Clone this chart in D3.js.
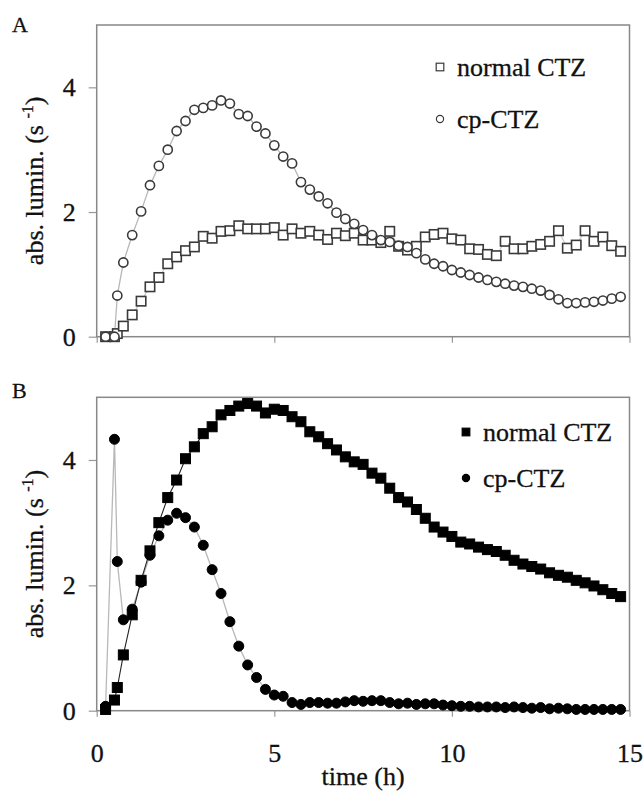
<!DOCTYPE html>
<html>
<head>
<meta charset="utf-8">
<script src="https://cdn.jsdelivr.net/npm/d3@7"></script>
<style>
  body { margin: 0; background: #fff; }
  svg text { font-family: "Liberation Serif", "Times New Roman", Times, serif; fill: #111; stroke: #111; stroke-width: 0.3px; }
</style>
</head>
<body>
<div id="chart"></div>
<script>
// sampling times (h), shared by both panels
var times = [0.25, 0.5, 0.58, 0.75, 1, 1.25, 1.5, 1.75, 2, 2.25,
  2.5, 2.75, 3, 3.25, 3.5, 3.75, 4, 4.25, 4.5, 4.75,
  5, 5.25, 5.5, 5.75, 6, 6.25, 6.5, 6.75, 7, 7.25,
  7.5, 7.75, 8, 8.25, 8.5, 8.75, 9, 9.25, 9.5, 9.75,
  10, 10.25, 10.5, 10.75, 11, 11.25, 11.5, 11.75, 12, 12.25,
  12.5, 12.75, 13, 13.25, 13.5, 13.75, 14, 14.25, 14.5, 14.75];

// panel A
var normalA = [0, 0, 0.05, 0.17, 0.35, 0.57, 0.80, 0.95, 1.17, 1.28,
  1.38, 1.44, 1.61, 1.58, 1.69, 1.70, 1.78, 1.73, 1.73, 1.73,
  1.75, 1.63, 1.73, 1.66, 1.69, 1.63, 1.56, 1.66, 1.62, 1.66,
  1.55, 1.55, 1.51, 1.69, 1.45, 1.39, 1.45, 1.60, 1.64, 1.66,
  1.57, 1.55, 1.41, 1.40, 1.32, 1.30, 1.53, 1.41, 1.41, 1.45,
  1.48, 1.53, 1.70, 1.42, 1.47, 1.70, 1.53, 1.60, 1.46, 1.37];
var cpA = [0, 0, 0.66, 1.19, 1.63, 2.01, 2.43, 2.74, 3.00, 3.30,
  3.46, 3.64, 3.67, 3.71, 3.79, 3.74, 3.57, 3.54, 3.37, 3.26,
  3.07, 2.89, 2.78, 2.48, 2.36, 2.25, 2.14, 1.99, 1.89, 1.81,
  1.71, 1.63, 1.55, 1.52, 1.46, 1.44, 1.34, 1.24, 1.17, 1.13,
  1.07, 1.03, 0.99, 0.95, 0.91, 0.88, 0.85, 0.82, 0.80, 0.77,
  0.74, 0.67, 0.60, 0.54, 0.54, 0.55, 0.56, 0.58, 0.61, 0.64];

// panel B
var normalB = [0.02, 0.17, 0.37, 0.89, 1.53, 2.08, 2.55, 3.00, 3.40, 3.68,
  4.02, 4.21, 4.42, 4.53, 4.72, 4.79, 4.86, 4.90, 4.86, 4.75,
  4.81, 4.79, 4.69, 4.61, 4.45, 4.37, 4.26, 4.16, 4.05, 3.97,
  3.93, 3.79, 3.71, 3.55, 3.40, 3.33, 3.21, 3.07, 2.93, 2.85,
  2.78, 2.69, 2.66, 2.61, 2.57, 2.54, 2.48, 2.40, 2.34, 2.30,
  2.26, 2.20, 2.16, 2.13, 2.08, 2.04, 1.99, 1.93, 1.87, 1.82];
var cpB = [0.07, 4.33, 2.38, 1.45, 1.62, 2.05, 2.48, 2.79, 3.04, 3.15,
  3.08, 2.93, 2.64, 2.25, 1.87, 1.42, 1.03, 0.73, 0.53, 0.34,
  0.25, 0.23, 0.13, 0.10, 0.13, 0.13, 0.12, 0.12, 0.14, 0.16,
  0.15, 0.16, 0.16, 0.13, 0.11, 0.12, 0.10, 0.11, 0.11, 0.09,
  0.08, 0.07, 0.07, 0.06, 0.06, 0.06, 0.05, 0.06, 0.05, 0.04,
  0.05, 0.03, 0.04, 0.03, 0.02, 0.02, 0.02, 0.02, 0.02, 0.02];

var seriesNames = ["normal CTZ", "cp-CTZ"];
var xTicks = [0, 5, 10, 15];
var yTicks = [0, 2, 4];

var FONT = "'Liberation Serif', 'Times New Roman', Times, serif";

var svg = d3.select("#chart").append("svg")
    .attr("width", 644)
    .attr("height", 795)
    .attr("font-family", FONT);

var x = d3.scaleLinear().domain([0, 15]).range([96.7, 629.5]);

function drawPanel(p) {
    var y = d3.scaleLinear().domain([0, 5]).range([p.bottom, p.top]);
    var g = svg.append("g");

    // axes
    var yAxis = g.append("g")
        .attr("transform", "translate(" + x(0) + ",0)")
        .call(d3.axisLeft(y).tickValues(yTicks).tickSize(8).tickPadding(13)
            .tickFormat(d3.format("d")));
    var xAxis = g.append("g")
        .attr("transform", "translate(0," + p.bottom + ")")
        .call(d3.axisBottom(x).tickValues(xTicks).tickSize(6).tickPadding(27)
            .tickFormat(p.xLabels ? d3.format("d") : ""));
    [yAxis, xAxis].forEach(function(a) {
        a.attr("font-family", FONT).attr("font-size", 26);
        a.select(".domain").remove();
        a.selectAll("line").attr("stroke", "#999").attr("stroke-width", 1.2);
        a.selectAll("text").attr("fill", "#111");
    });

    // frame
    g.append("rect")
        .attr("x", x(0)).attr("y", p.top)
        .attr("width", x(15) - x(0)).attr("height", p.bottom - p.top)
        .attr("fill", "none").attr("stroke", "#888").attr("stroke-width", 1.5);

    var pts = function(vals) { return times.map(function(t, i) { return [t, vals[i]]; }); };
    var line = d3.line().x(function(d) { return x(d[0]); }).y(function(d) { return y(d[1]); });

    // traces under the markers
    g.append("path").datum(pts(p.cp)).attr("d", line)
        .attr("fill", "none").attr("stroke", "#b8b8b8").attr("stroke-width", 1.3);
    g.append("path").datum(pts(p.normal)).attr("d", line)
        .attr("fill", "none").attr("stroke", p.filled ? "#222" : "#c4c4c4").attr("stroke-width", 1.1);

    var fill = p.filled ? "#000" : "#fff";
    var stroke = p.filled ? "#000" : "#3a3a3a";
    var sw = p.filled ? 1 : 1.6;
    var s = p.filled ? 10 : 9.4;

    g.selectAll(".sq").data(pts(p.normal)).enter().append("rect")
        .attr("x", function(d) { return x(d[0]) - s / 2; })
        .attr("y", function(d) { return y(d[1]) - s / 2; })
        .attr("width", s).attr("height", s)
        .attr("fill", fill).attr("stroke", stroke).attr("stroke-width", sw);

    g.selectAll(".ci").data(pts(p.cp)).enter().append("circle")
        .attr("cx", function(d) { return x(d[0]); })
        .attr("cy", function(d) { return y(d[1]); })
        .attr("r", p.filled ? 5 : 4.6)
        .attr("fill", fill).attr("stroke", stroke).attr("stroke-width", sw);

    // legend
    var lg = g.append("g");
    lg.append("rect")
        .attr("x", p.legX - 3.8).attr("y", p.legY[0] - 3.8)
        .attr("width", 7.6).attr("height", 7.6)
        .attr("fill", fill).attr("stroke", stroke).attr("stroke-width", 1.2);
    lg.append("circle")
        .attr("cx", p.legX).attr("cy", p.legY[1]).attr("r", 3.6)
        .attr("fill", fill).attr("stroke", stroke).attr("stroke-width", 1.2);
    lg.selectAll("text").data(seriesNames).enter().append("text")
        .attr("x", p.legX + 17)
        .attr("y", function(d, i) { return p.legY[i] + 9; })
        .attr("font-family", FONT)
        .attr("font-size", 26)
        .text(function(d) { return d; });

    // y label with superscript
    var cy = (p.top + p.bottom) / 2;
    var yl = g.append("text")
        .attr("transform", "translate(43," + cy + ") rotate(-90)")
        .attr("text-anchor", "middle")
        .attr("font-family", FONT)
        .attr("font-size", 26);
    yl.append("tspan").text("abs. lumin. (s ");
    yl.append("tspan").attr("dy", -10).attr("font-size", 16).text("-1");
    yl.append("tspan").attr("dy", 10).text(")");

    // panel letter
    g.append("text").attr("x", 12).attr("y", p.letterY)
        .attr("font-family", FONT)
        .attr("font-size", 22).text(p.letter);
}

drawPanel({ letter: "A", letterY: 32, top: 25, bottom: 336.7, normal: normalA, cp: cpA,
    filled: false, xLabels: false, legX: 440, legY: [67, 119] });
drawPanel({ letter: "B", letterY: 398, top: 397.3, bottom: 710.7, normal: normalB, cp: cpB,
    filled: true, xLabels: true, legX: 466, legY: [432, 478] });

// x axis title
svg.append("text")
    .attr("x", (x(0) + x(15)) / 2).attr("y", 785)
    .attr("text-anchor", "middle")
    .attr("font-family", FONT)
    .attr("font-size", 26)
    .text("time (h)");
</script>
</body>
</html>
